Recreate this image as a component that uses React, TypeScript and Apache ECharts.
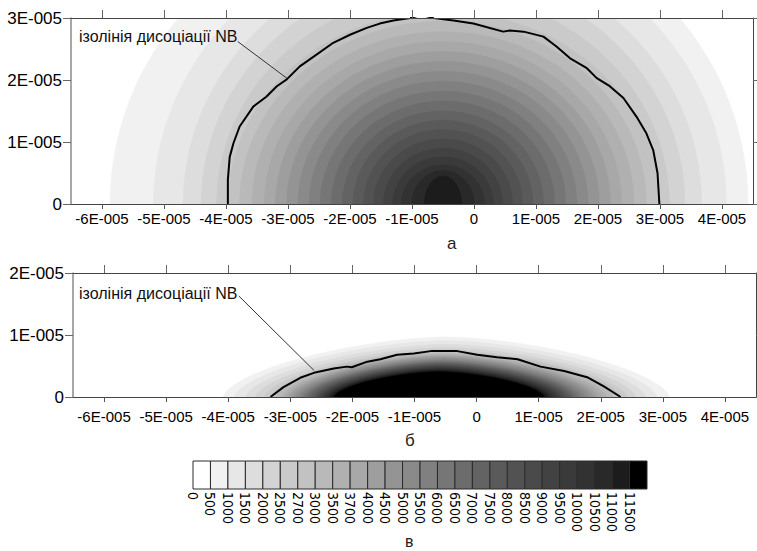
import React, { useEffect, useRef } from "react";
import * as echarts from "echarts";

// x, y in units of 1E-005
const X_TICKS = [-6, -5, -4, -3, -2, -1, 0, 1, 2, 3, 4];

const LEVELS = [0, 500, 1000, 1500, 2000, 2500, 2700, 3000, 3500, 3700, 4000, 4500, 5000, 5500, 6000, 6500, 7000, 7500, 8000, 8500, 9000, 9500, 10000, 10500, 11000, 11500];
const BAND_COLORS = ["#ffffff", "#f1f1f1", "#e7e7e7", "#dddddd", "#d3d3d3", "#cacaca", "#c2c2c2", "#b9b9b9", "#b0b0b0", "#a8a8a8", "#9e9e9e", "#949494", "#8a8a8a", "#808080", "#767676", "#6c6c6c", "#636363", "#5a5a5a", "#525252", "#4a4a4a", "#424242", "#3a3a3a", "#323232", "#292929", "#1c1c1c", "#000000"];

// contour boundaries (plot а): [x at y=0 left, x at y=0 right, top height] for LEVELS[1..]
const BOUNDS_A = [
  [-5.87, 4.42, 4.85], [-5.17, 4.07, 4.4], [-4.69, 3.67, 4.0], [-4.4, 3.4, 3.7], [-4.15, 3.15, 3.4],
  [-3.97, 2.99, 3.1], [-3.78, 2.78, 2.95], [-3.58, 2.58, 2.78], [-3.38, 2.38, 2.62], [-3.2, 2.2, 2.46],
  [-3.02, 2.02, 2.3], [-2.84, 1.84, 2.14], [-2.66, 1.66, 1.98], [-2.48, 1.48, 1.82], [-2.3, 1.3, 1.66],
  [-2.12, 1.12, 1.5], [-1.95, 0.95, 1.35], [-1.78, 0.78, 1.2], [-1.62, 0.62, 1.05], [-1.46, 0.46, 0.9],
  [-1.31, 0.31, 0.76], [-1.17, 0.17, 0.63], [-1.0, 0.0, 0.54], [-0.8, -0.2, 0.45]
];
// contour boundaries (plot б)
const BOUNDS_B = [
  [-4.08, 3.1, 0.97], [-3.9, 2.9, 0.91], [-3.72, 2.72, 0.85], [-3.56, 2.56, 0.8], [-3.42, 2.42, 0.76],
  [-3.32, 2.32, 0.74], [-3.22, 2.2, 0.715], [-3.14, 2.1, 0.69], [-3.08, 2.02, 0.675], [-3.02, 1.95, 0.66],
  [-2.96, 1.88, 0.64], [-2.9, 1.81, 0.62], [-2.84, 1.74, 0.6], [-2.79, 1.67, 0.58], [-2.74, 1.61, 0.565],
  [-2.69, 1.55, 0.55], [-2.64, 1.5, 0.535], [-2.59, 1.45, 0.52], [-2.55, 1.4, 0.505], [-2.51, 1.35, 0.49],
  [-2.47, 1.3, 0.475], [-2.43, 1.25, 0.46], [-2.39, 1.2, 0.445], [-2.35, 1.15, 0.43], [-2.3, 1.09, 0.41]
];

// isoline of NB dissociation
const ISO_A = [
  [-3.97, 0], [-3.97, 0.39], [-3.94, 0.76], [-3.88, 0.98], [-3.78, 1.25], [-3.56, 1.57], [-3.35, 1.73],
  [-3.18, 1.9], [-3.02, 2.01], [-2.81, 2.22], [-2.54, 2.41], [-2.27, 2.6], [-2.0, 2.73], [-1.73, 2.84],
  [-1.52, 2.91], [-1.3, 2.96], [-1.03, 3.0], [-0.85, 3.05], [-0.65, 3.0], [-0.33, 2.96], [-0.01, 2.91],
  [0.47, 2.78], [0.58, 2.8], [0.8, 2.78], [1.12, 2.7], [1.33, 2.54], [1.55, 2.35], [1.82, 2.19],
  [1.98, 2.03], [2.19, 1.9], [2.41, 1.71], [2.62, 1.41], [2.78, 1.14], [2.89, 0.87], [2.96, 0.5], [2.99, 0]
];
const ISO_B = [
  [-3.32, 0], [-3.11, 0.16], [-2.84, 0.31], [-2.62, 0.39], [-2.3, 0.46], [-2.09, 0.49], [-2.01, 0.48],
  [-1.76, 0.57], [-1.55, 0.61], [-1.28, 0.68], [-1.01, 0.7], [-0.74, 0.74], [-0.31, 0.74], [0.01, 0.68],
  [0.33, 0.64], [0.66, 0.61], [1.03, 0.49], [1.41, 0.42], [1.78, 0.32], [2.05, 0.17], [2.32, 0]
];
const LEADER_A = [[-3.81, 2.62], [-3.02, 2.03]];
const LEADER_B = [[-3.83, 1.63], [-2.62, 0.43]];

const LABEL_TEXT = "ізолінія дисоціації NB";

const fmtE = (v: number) => {
  const n = Math.round(v);
  return n === 0 ? "0" : `${n}E-005`;
};

// superellipse dome; p = 2 gives an ellipse
function contourRenderer(p: number) {
  return (params: any, api: any) => {
    const xl = api.value(0), xr = api.value(1), yt = api.value(2), band = api.value(3);
    const cx = (xl + xr) / 2, rx = (xr - xl) / 2;
    const pts: number[][] = [];
    const N = 100;
    const e = 2 / p;
    for (let i = 0; i <= N; i++) {
      const t = (Math.PI * i) / N;
      const c = Math.cos(t), s = Math.sin(t);
      const x = cx + rx * Math.sign(c) * Math.pow(Math.abs(c), e);
      const y = yt * Math.pow(Math.abs(s), e);
      pts.push(api.coord([x, y]));
    }
    return { type: "polygon", shape: { points: pts }, style: { fill: BAND_COLORS[band], stroke: BAND_COLORS[band], lineWidth: 0.5 } };
  };
}

function boxItem(params: any, api: any) {
  const i = api.value(0);
  const p0 = api.coord([i, 1]);
  const p1 = api.coord([i + 1, 0]);
  return {
    type: "rect",
    shape: { x: p0[0], y: p0[1], width: p1[0] - p0[0], height: p1[1] - p0[1] },
    style: { fill: BAND_COLORS[i], stroke: "#2b2b2b", lineWidth: 1 },
  };
}

const AXIS_DARK = "#444";
const FONT = "'Liberation Sans', Arial, sans-serif";

export default function App() {
  const ref = useRef<HTMLDivElement>(null);
  useEffect(() => {
    if (!ref.current) return;
    const chart = echarts.init(ref.current, undefined, { renderer: "svg" });
    const xBottom = (grid: number, margin: number) => ({
      type: "value", gridIndex: grid, position: "bottom", min: -6.5, max: 4.5, z: 5,
      axisLine: { show: true, onZero: false, lineStyle: { color: AXIS_DARK, width: 1 } },
      axisTick: { show: true, inside: false, length: 5, customValues: X_TICKS, lineStyle: { color: "#555" } },
      axisLabel: { show: true, customValues: X_TICKS, formatter: fmtE, margin, color: "#000", fontFamily: FONT, fontSize: 15 },
      splitLine: { show: false },
    });
    const xTop = (grid: number) => ({
      type: "value", gridIndex: grid, position: "top", min: -6.5, max: 4.5, z: 5,
      axisLine: { show: true, onZero: false, lineStyle: { color: AXIS_DARK, width: 1 } },
      axisTick: { show: true, inside: false, length: 8, customValues: X_TICKS, lineStyle: { color: "#666" } },
      axisLabel: { show: false },
      splitLine: { show: false },
    });
    const yLeft = (grid: number, max: number) => ({
      type: "value", gridIndex: grid, position: "left", min: 0, max, interval: 1, z: 5,
      axisLine: { show: true, onZero: false, lineStyle: { color: "#8a8a8a", width: 1.5 } },
      axisTick: { show: true, inside: false, length: 8, lineStyle: { color: "#666" } },
      axisLabel: { show: true, formatter: fmtE, margin: 9, color: "#000", fontFamily: FONT, fontSize: 17 },
      splitLine: { show: false },
    });
    const yRight = (grid: number, max: number) => ({
      type: "value", gridIndex: grid, position: "right", min: 0, max, interval: 1, z: 5,
      axisLine: { show: true, onZero: false, lineStyle: { color: AXIS_DARK, width: 1 } },
      axisTick: { show: true, inside: false, length: 5, lineStyle: { color: "#666" } },
      axisLabel: { show: false },
      splitLine: { show: false },
    });

    const option: any = {
      animation: false,
      backgroundColor: "#ffffff",
      grid: [
        { left: 71, top: 18, width: 682, height: 186 },
        { left: 73, top: 273, width: 683, height: 124 },
        { left: 193, top: 461, width: 454, height: 28 },
      ],
      xAxis: [
        xBottom(0, 7), xTop(0), xBottom(1, 12), xTop(1),
        {
          type: "value", gridIndex: 2, min: 0, max: 26, interval: 1,
          axisLine: { show: false }, axisTick: { show: false }, splitLine: { show: false },
          axisLabel: {
            show: true, rotate: -90, margin: 3, customValues: LEVELS.map((_, i) => i),
            formatter: (v: number) => (LEVELS[Math.round(v)] !== undefined ? String(LEVELS[Math.round(v)]) : ""),
            color: "#000", fontSize: 14, fontFamily: "'Liberation Sans Narrow', 'DejaVu Sans Condensed', sans-serif",
          },
        },
      ],
      yAxis: [
        yLeft(0, 3), yRight(0, 3), yLeft(1, 2), yRight(1, 2),
        { type: "value", gridIndex: 2, min: 0, max: 1, show: false },
      ],
      series: [
        {
          type: "custom", xAxisIndex: 0, yAxisIndex: 0, clip: true, renderItem: contourRenderer(2),
          data: BOUNDS_A.map((b, i) => [b[0], b[1], b[2], i + 1]),
        },
        {
          type: "custom", xAxisIndex: 2, yAxisIndex: 2, clip: true, renderItem: contourRenderer(1.6),
          data: BOUNDS_B.map((b, i) => [b[0], b[1], b[2], i + 1]),
        },
        {
          type: "line", xAxisIndex: 0, yAxisIndex: 0, data: ISO_A, showSymbol: false, symbol: "none", clip: true, z: 4,
          lineStyle: { color: "#000", width: 2 },
        },
        {
          type: "line", xAxisIndex: 2, yAxisIndex: 2, data: ISO_B, showSymbol: false, symbol: "none", clip: true, z: 4,
          lineStyle: { color: "#000", width: 2 },
        },
        {
          type: "line", xAxisIndex: 0, yAxisIndex: 0, data: LEADER_A, showSymbol: false, symbol: "none", z: 4,
          lineStyle: { color: "#333", width: 1 },
        },
        {
          type: "line", xAxisIndex: 2, yAxisIndex: 2, data: LEADER_B, showSymbol: false, symbol: "none", z: 4,
          lineStyle: { color: "#333", width: 1 },
        },
        {
          type: "custom", xAxisIndex: 4, yAxisIndex: 4, renderItem: boxItem,
          data: LEVELS.map((_, i) => [i]),
        },
      ],
      graphic: [
        { type: "text", left: 79, top: 28, style: { text: LABEL_TEXT, font: `16px ${FONT}`, fill: "#111" }, z: 10 },
        { type: "text", left: 79, top: 285, style: { text: LABEL_TEXT, font: `16px ${FONT}`, fill: "#111" }, z: 10 },
        { type: "text", left: 447, top: 235, style: { text: "а", font: `17px ${FONT}`, fill: "#222" } },
        { type: "text", left: 405, top: 432, style: { text: "б", font: `17px ${FONT}`, fill: "#222" } },
        { type: "text", left: 405, top: 533, style: { text: "в", font: `16px ${FONT}`, fill: "#222" } },
      ],
    };
    chart.setOption(option);
    return () => chart.dispose();
  }, []);
  return <div ref={ref} style={{ position: "fixed", left: 0, top: 0, width: 757, height: 551 }} />;
}
